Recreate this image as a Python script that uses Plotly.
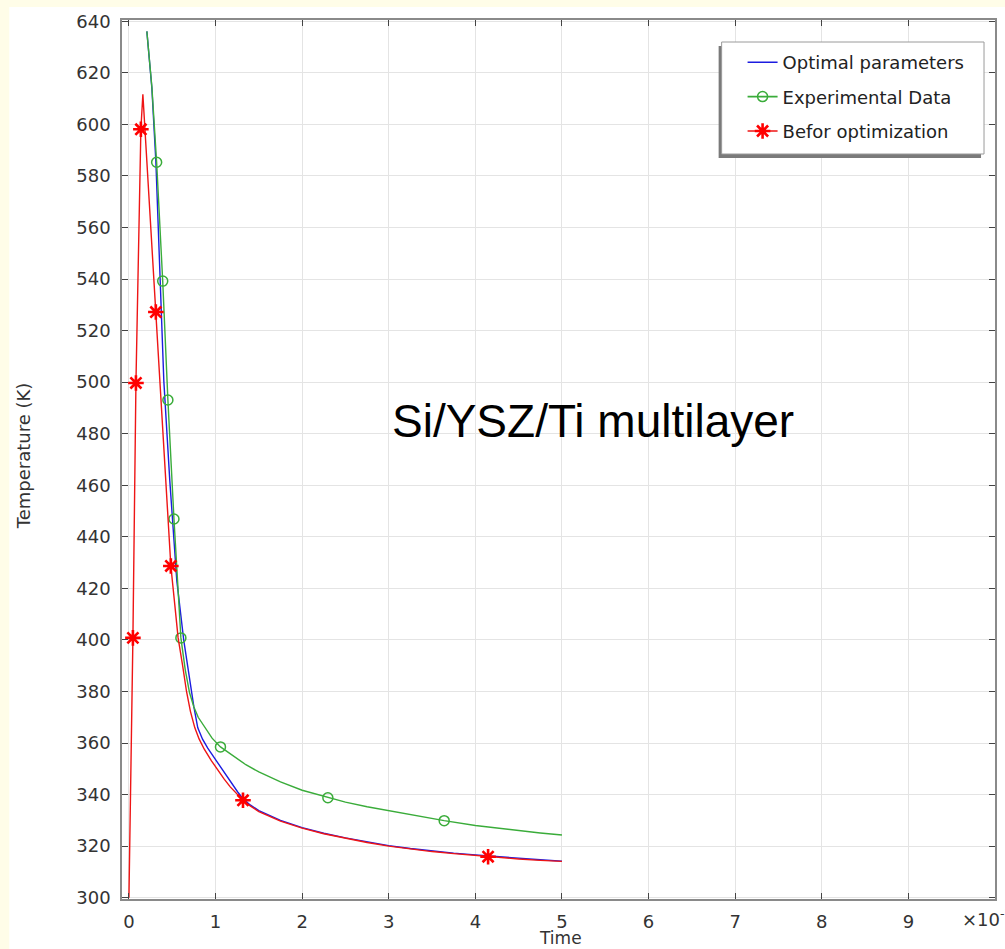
import plotly.graph_objects as go

# Time is in units of 1e-7 s, temperature in K.
# Optimal-parameter simulation
t_opt = [0.207, 0.265, 0.311, 0.357, 0.403, 0.472, 0.553, 0.634, 0.703, 0.75,
         0.795, 0.85, 0.91, 0.96, 1.014, 1.07, 1.13, 1.19, 1.256, 1.317,
         1.4, 1.5, 1.75, 2.0, 2.25, 2.5, 2.75, 3.0, 3.25, 3.5,
         3.75, 4.0, 4.25, 4.5, 4.75, 5.0]
T_opt = [636.1, 614.0, 585.7, 539.2, 500.4, 461.7, 422.9, 399.6, 384.1, 374.0,
         365.9, 361.5, 358.0, 355.5, 353.1, 350.2, 347.0, 344.2, 341.0, 338.4,
         336.0, 333.8, 330.0, 327.2, 325.0, 323.2, 321.6, 320.2, 319.1, 318.1,
         317.3, 316.6, 315.9, 315.3, 314.7, 314.2]

# Measured transient
t_exp = [0.207, 0.265, 0.32, 0.39, 0.45, 0.52, 0.60, 0.65, 0.70, 0.75,
         0.80, 0.876, 0.96, 1.057, 1.2, 1.35, 1.5, 1.75, 2.0, 2.297,
         2.5, 2.75, 3.0, 3.3, 3.64, 4.0, 4.25, 4.5, 4.75, 5.0]
T_exp = [636.1, 614.5, 585.3, 539.2, 493.1, 446.9, 400.8, 388.5, 379.5, 374.0,
         370.0, 365.9, 361.9, 358.5, 355.0, 351.6, 348.8, 344.9, 341.7, 338.8,
         337.1, 335.3, 333.7, 331.8, 329.9, 328.0, 327.0, 326.0, 325.1, 324.3]
exp_marker_idx = [2, 3, 4, 5, 6, 13, 19, 24]

# Simulation with the initial parameter guess
t_bef = [0.0, 0.046, 0.081, 0.138, 0.161, 0.311, 0.484, 0.53, 0.568, 0.62,
         0.665, 0.71, 0.76, 0.81, 0.87, 0.953, 1.03, 1.10, 1.17, 1.248,
         1.317, 1.4, 1.5, 1.75, 2.0, 2.25, 2.5, 2.75, 3.0, 3.25,
         3.5, 3.75, 4.0, 4.147, 4.25, 4.5, 4.75, 5.0]
T_bef = [300.0, 400.8, 499.7, 598.1, 611.7, 527.2, 428.7, 413.5, 400.8, 390.0,
         380.0, 372.3, 366.0, 361.6, 357.6, 353.1, 349.3, 346.0, 343.0, 340.2,
         337.8, 335.6, 333.4, 329.7, 327.0, 324.8, 323.0, 321.4, 320.0, 318.9,
         317.9, 317.1, 316.4, 315.9, 315.6, 315.0, 314.5, 314.1]
bef_marker_idx = [1, 2, 3, 5, 6, 20, 33]

x_ticks = list(range(10))
y_ticks = list(range(300, 641, 20))

# Canvas geometry (pixels) and helpers mapping pixels to paper coordinates
W, H = 1005, 949
ML, MR, MT, MB = 122, 8, 20, 50
PW, PH = W - ML - MR, H - MT - MB


def px(x):
    return (x - ML) / PW


def py(y):
    return (H - MB - y) / PH


BLUE = "#1c1ce0"
GREEN = "#3aac3a"
RED = "#ee1515"
FONT = "DejaVu Sans"

fig = go.Figure()

series = [
    dict(name="Optimal parameters", t=t_opt, T=T_opt, color=BLUE, idx=None, symbol=None),
    dict(name="Experimental Data", t=t_exp, T=T_exp, color=GREEN, idx=exp_marker_idx,
         symbol=dict(symbol="circle-open", size=10, line=dict(width=1.5, color=GREEN), color=GREEN)),
    dict(name="Befor optimization", t=t_bef, T=T_bef, color=RED, idx=bef_marker_idx,
         symbol=dict(symbol="asterisk-open", size=13, line=dict(width=2.6, color="#ff0000"), color="#ff0000")),
]

for k, s in enumerate(series):
    grp = f"g{k}"
    fig.add_trace(go.Scatter(x=s["t"], y=s["T"], mode="lines",
                             line=dict(color=s["color"], width=1.4),
                             legendgroup=grp, showlegend=False, hoverinfo="skip"))
    if s["idx"] is not None:
        fig.add_trace(go.Scatter(x=[s["t"][i] for i in s["idx"]],
                                 y=[s["T"][i] for i in s["idx"]],
                                 mode="markers", marker=s["symbol"],
                                 legendgroup=grp, showlegend=False))
    # legend key
    fig.add_trace(go.Scatter(x=[None], y=[None],
                             mode="lines+markers" if s["symbol"] else "lines",
                             line=dict(color=s["color"], width=1.6),
                             marker=s["symbol"] if s["symbol"] else None,
                             name=s["name"], legendgroup=grp, showlegend=True))

axis_common = dict(
    showgrid=True, gridcolor="#e4e4e4", gridwidth=1,
    showline=True, linecolor="#8a8a8a", linewidth=1.5, mirror="ticks",
    ticks="inside", ticklen=6, tickcolor="#444", tickwidth=1,
    tickfont=dict(family=FONT, size=18, color="#333"),
    zeroline=False,
)

fig.update_xaxes(range=[-0.08, 10], tickvals=x_ticks, ticktext=[str(v) for v in x_ticks],
                 ticklabelstandoff=6, **axis_common)
fig.update_yaxes(range=[299.5, 640.5], tickvals=y_ticks, ticktext=[str(v) for v in y_ticks],
                 ticklabelstandoff=6, **axis_common)

shapes = [
    # white page area
    dict(type="rect", xref="paper", yref="paper", layer="below",
         x0=px(9), x1=px(W + 20), y0=py(H + 20), y1=py(7),
         fillcolor="white", line=dict(width=0)),
    # legend drop shadow and box
    dict(type="rect", xref="paper", yref="paper", layer="above",
         x0=px(720), x1=px(983), y0=py(158), y1=py(46),
         fillcolor="#7a7a7a", line=dict(width=0)),
    dict(type="rect", xref="paper", yref="paper", layer="above",
         x0=px(723), x1=px(986), y0=py(154), y1=py(42),
         fillcolor="white", line=dict(width=1, color="#9a9a9a")),
]

annotations = [
    dict(text="Si/YSZ/Ti multilayer", xref="paper", yref="paper",
         x=px(594), y=py(421), showarrow=False, xanchor="center", yanchor="middle",
         font=dict(family="Liberation Sans", size=46, color="#000")),
    dict(text="Temperature (K)", xref="paper", yref="paper",
         x=px(23), y=py(456), showarrow=False, textangle=-90,
         xanchor="center", yanchor="middle",
         font=dict(family=FONT, size=18, color="#333")),
    dict(text="Time", xref="paper", yref="paper",
         x=px(562), y=py(938), showarrow=False, xanchor="center", yanchor="middle",
         font=dict(family=FONT, size=17, color="#333")),
    dict(text="×10<sup>-7</sup>", xref="paper", yref="paper",
         x=px(962), y=py(918), showarrow=False, xanchor="left", yanchor="middle",
         font=dict(family=FONT, size=18, color="#333")),
]

fig.update_layout(
    width=W, height=H,
    margin=dict(l=ML, r=MR, t=MT, b=MB, pad=0),
    paper_bgcolor="#fffde8", plot_bgcolor="white",
    shapes=shapes, annotations=annotations,
    showlegend=True,
    legend=dict(x=px(744), y=py(44), xanchor="left", yanchor="top",
                bgcolor="rgba(0,0,0,0)", borderwidth=0,
                tracegroupgap=8, traceorder="grouped",
                font=dict(family=FONT, size=18, color="#222")),
)

fig.write_html("out.html")
